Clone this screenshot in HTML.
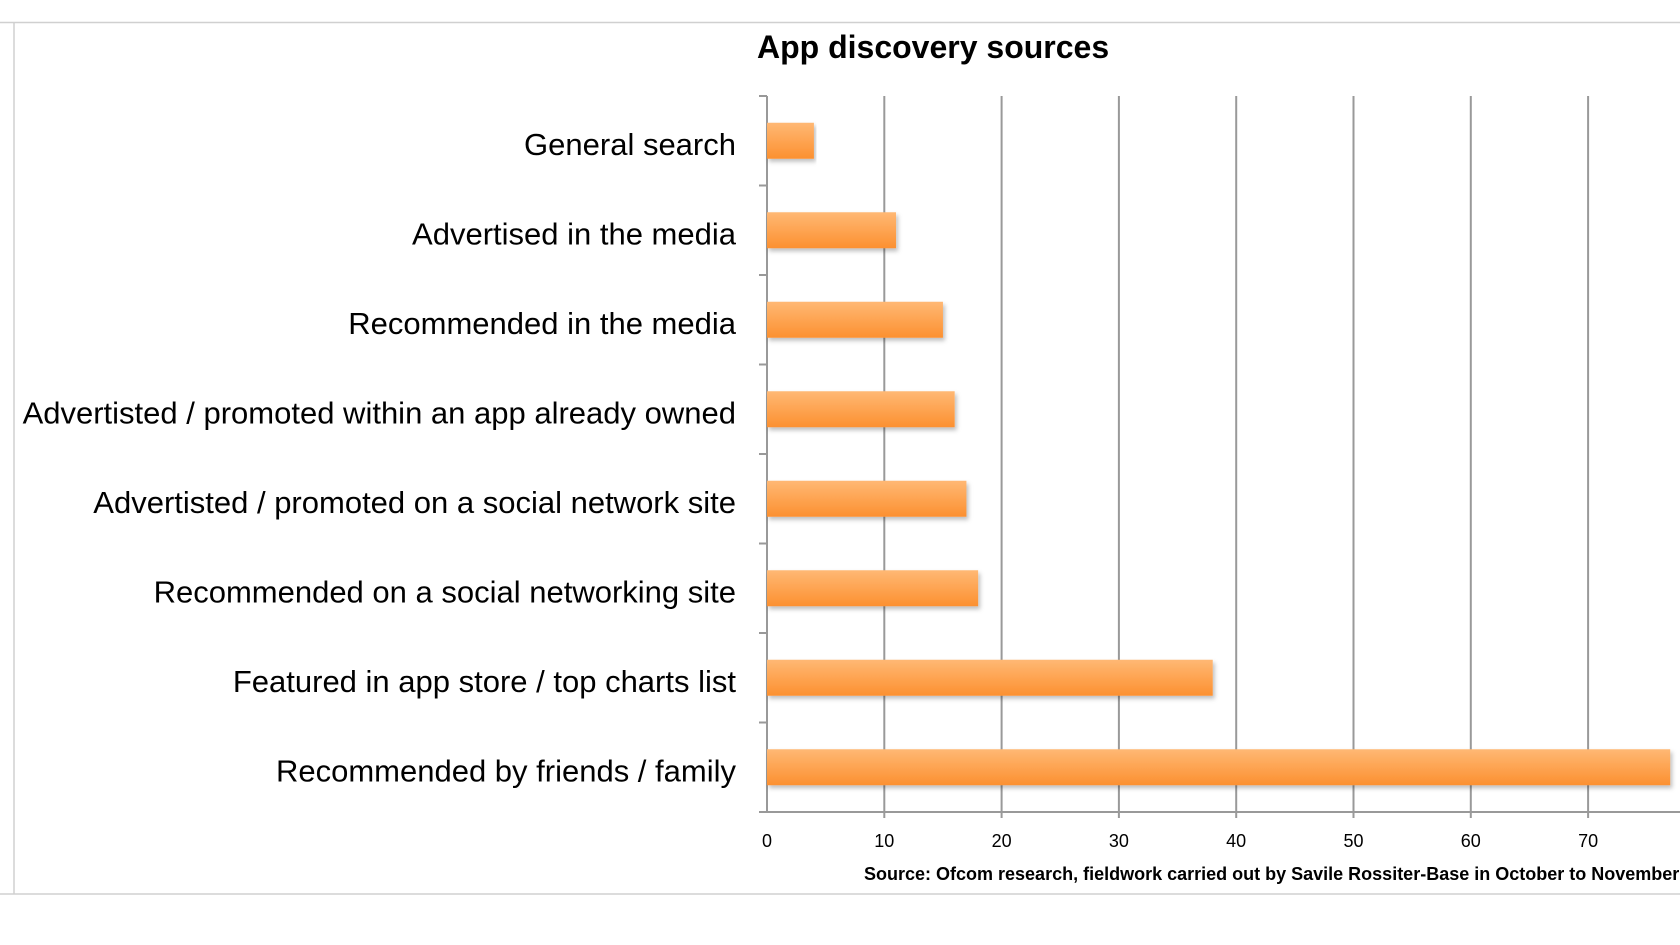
<!DOCTYPE html>
<html><head><meta charset="utf-8"><style>
html,body{margin:0;padding:0;background:#fff;}
svg{display:block;}
text{font-family:"Liberation Sans",sans-serif;}
</style></head><body>
<svg id="chart" width="1680" height="945">
<defs>
<linearGradient id="barGrad" x1="0" y1="0" x2="0" y2="1">
<stop offset="0" stop-color="#ffb874"/><stop offset="1" stop-color="#fc9030"/>
</linearGradient>
<filter id="sh" x="-5%" y="-20%" width="110%" height="160%"><feDropShadow dx="2" dy="3" stdDeviation="2" flood-color="#000" flood-opacity="0.25"/></filter>
</defs>
<line x1="0" y1="22.5" x2="1680" y2="22.5" stroke="#d0d0d0" stroke-width="1.5"/>
<line x1="14" y1="22" x2="14" y2="894" stroke="#d0d0d0" stroke-width="1.5"/>
<line x1="0" y1="894" x2="1680" y2="894" stroke="#d0d0d0" stroke-width="1.5"/>
<text x="757" y="58" font-size="32" font-weight="bold" fill="#000">App discovery sources</text>
<g id="grid"></g><g id="bars"></g><g id="ylabels"></g><g id="xticks"></g>
<text x="864" y="880" font-size="18" font-weight="bold" fill="#000">Source: Ofcom research, fieldwork carried out by Savile Rossiter-Base in October to November</text>
</svg>
<script>
const categories=["General search","Advertised in the media","Recommended in the media","Advertisted / promoted within an app already owned","Advertisted / promoted on a social network site","Recommended on a social networking site","Featured in app store / top charts list","Recommended by friends / family"];
const values=[4,11,15,16,17,18,38,77];
const ticks=[0,10,20,30,40,50,60,70];
const NS="http://www.w3.org/2000/svg";
const X0=767,PER=11.73,TOP=96,BOT=812,BAND=(BOT-TOP)/categories.length,BH=36;
const x=v=>X0+v*PER;
function mk(t,a,p){const e=document.createElementNS(NS,t);for(const k in a)e.setAttribute(k,a[k]);document.getElementById(p).appendChild(e);return e;}
ticks.forEach((t,i)=>{
 if(t>0){const g=mk('line',{x1:x(t),y1:TOP,x2:x(t),y2:BOT+6,stroke:'#999','stroke-width':2},'grid');
 
 }
 const l=mk('text',{x:x(t),y:847,'font-size':18,'text-anchor':'middle',fill:'#000'},'xticks');l.textContent=t;
 
 
});
const ax=mk('line',{x1:X0,y1:TOP,x2:X0,y2:BOT,stroke:'#999','stroke-width':2},'grid');


const bx=mk('line',{x1:X0,y1:BOT,x2:1680,y2:BOT,stroke:'#999','stroke-width':2},'grid');


for(let i=0;i<=categories.length;i++){const y=TOP+i*BAND;mk('line',{x1:X0-8,y1:y,x2:X0,y2:y,stroke:'#999','stroke-width':2},'grid');}
categories.forEach((c,i)=>{
 const cy=TOP+BAND*(i+0.5);
 const r=mk('rect',{x:X0,y:cy-BH/2,width:values[i]*PER,height:BH,fill:'url(#barGrad)',filter:'url(#sh)'},'bars');
 
 
 const t=mk('text',{x:736,y:cy+14,'font-size':31,'text-anchor':'end',fill:'#000'},'ylabels');t.textContent=c;
 
 
});
</script>
</body></html>
